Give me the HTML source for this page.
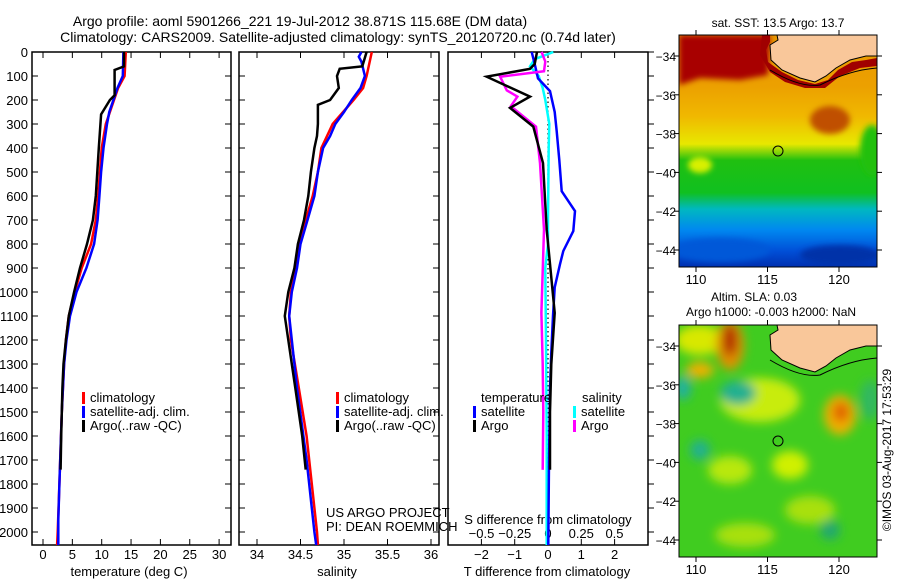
<!DOCTYPE html>
<html><head><meta charset="utf-8">
<style>
html,body{margin:0;padding:0;background:#fff;}
svg{display:block;font-family:"Liberation Sans",sans-serif;}
text{fill:#000;}
</style></head>
<body>
<svg id="fig" width="900" height="580" viewBox="0 0 900 580" xmlns="http://www.w3.org/2000/svg">
<defs>
<linearGradient id="sstGrad" x1="0" y1="0" x2="0" y2="1">
<stop offset="0" stop-color="#e89800"/>
<stop offset="0.22" stop-color="#eca000"/>
<stop offset="0.35" stop-color="#f0b800"/>
<stop offset="0.47" stop-color="#e8e800"/>
<stop offset="0.54" stop-color="#20c010"/>
<stop offset="0.68" stop-color="#10c020"/>
<stop offset="0.75" stop-color="#00b8c0"/>
<stop offset="0.84" stop-color="#0088f0"/>
<stop offset="0.93" stop-color="#0050d8"/>
<stop offset="1" stop-color="#0030b0"/>
</linearGradient>
<filter id="blur4"><feGaussianBlur stdDeviation="5"/></filter>
<filter id="blur2"><feGaussianBlur stdDeviation="3"/></filter>
<clipPath id="mapClip1"><rect x="679" y="35" width="198" height="232"/></clipPath>
<clipPath id="mapClip2"><rect x="679" y="325" width="198" height="232"/></clipPath>
</defs>

<text x="300" y="26" font-size="14" text-anchor="middle">Argo profile: aoml 5901266_221 19-Jul-2012 38.871S 115.68E (DM data)</text>
<text x="338" y="42" font-size="14" text-anchor="middle">Climatology: CARS2009. Satellite-adjusted climatology: synTS_20120720.nc (0.74d later)</text>

<!-- SST map -->
<g clip-path="url(#mapClip1)">
<rect x="679" y="35" width="198" height="232" fill="url(#sstGrad)"/>
<g filter="url(#blur2)">
<polygon points="679,35 770,35 768,75 740,80 700,78 679,85" fill="#a80000"/>
<ellipse cx="830" cy="120" rx="20" ry="14" fill="#c05000"/>
<ellipse cx="872" cy="150" rx="12" ry="25" fill="#20c010"/>
<ellipse cx="700" cy="165" rx="12" ry="8" fill="#d8f000"/>
<ellipse cx="720" cy="250" rx="50" ry="12" fill="#0058d8"/>
<ellipse cx="840" cy="255" rx="40" ry="10" fill="#0030a8"/>
</g>
<path d="M770,35 L770,42 L766,50 L768,62 L782,72 L798,80 L815,84 L828,80 L838,70 L852,62 L866,60 L877,58 L877,66 L860,68 L840,76 L825,88 L805,88 L785,82 L770,72 L760,55 L762,35 Z" fill="#a00000"/>
<path d="M777,35 L778,40 L770,45 L771,60 L782,70 L800,78 L815,82 L826,76 L836,68 L850,60 L866,56 L877,56 L877,35 Z" fill="#f9c79a" stroke="#000" stroke-width="1"/>
<path d="M770,70 Q800,88 820,85 Q850,70 877,68" fill="none" stroke="#000" stroke-width="1"/>
</g>
<rect x="679" y="35" width="198" height="232" fill="none" stroke="#000"/>
<circle cx="778" cy="151" r="5" fill="none" stroke="#000"/>
<text x="778" y="27" font-size="12" text-anchor="middle">sat. SST: 13.5 Argo: 13.7</text>

<!-- SLA map -->
<g clip-path="url(#mapClip2)">
<rect x="679" y="325" width="198" height="232" fill="#40cc20"/>
<g filter="url(#blur4)">
<ellipse cx="700" cy="340" rx="25" ry="15" fill="#d8e800"/>
<ellipse cx="730" cy="345" rx="14" ry="25" fill="#e09000"/>
<ellipse cx="730" cy="340" rx="7" ry="16" fill="#b02800"/>
<ellipse cx="700" cy="370" rx="14" ry="8" fill="#f0b000"/>
<ellipse cx="760" cy="400" rx="40" ry="22" fill="#c8ec10"/>
<ellipse cx="738" cy="393" rx="18" ry="12" fill="#20b090"/>
<ellipse cx="683" cy="388" rx="8" ry="12" fill="#20b0a0"/>
<ellipse cx="700" cy="450" rx="10" ry="10" fill="#20b090"/>
<ellipse cx="840" cy="415" rx="16" ry="20" fill="#f0b000"/>
<ellipse cx="841" cy="412" rx="8" ry="10" fill="#e06000"/>
<ellipse cx="790" cy="465" rx="18" ry="14" fill="#d0f000"/>
<ellipse cx="730" cy="470" rx="22" ry="14" fill="#b8e810"/>
<ellipse cx="810" cy="510" rx="25" ry="14" fill="#a8e010"/>
<ellipse cx="745" cy="535" rx="30" ry="12" fill="#a8e010"/>
<ellipse cx="870" cy="400" rx="10" ry="20" fill="#30b860"/>
<ellipse cx="830" cy="530" rx="10" ry="10" fill="#20a870"/>
</g>
<path d="M777,325 L778,330 L770,335 L771,350 L782,360 L800,368 L815,372 L826,366 L836,358 L850,350 L866,346 L877,346 L877,325 Z" fill="#f9c79a" stroke="#000" stroke-width="1"/>
<path d="M770,360 Q800,378 820,375 Q850,360 877,358" fill="none" stroke="#000" stroke-width="1"/>
</g>
<rect x="679" y="325" width="198" height="232" fill="none" stroke="#000"/>
<circle cx="778" cy="441" r="5" fill="none" stroke="#000"/>
<text x="754" y="301" font-size="12" text-anchor="middle">Altim. SLA: 0.03</text>
<text x="771" y="316" font-size="12" text-anchor="middle">Argo h1000: -0.003 h2000: NaN</text>
<text transform="translate(891,450) rotate(-90)" font-size="12" text-anchor="middle">©IMOS 03-Aug-2017 17:53:29</text>

<g id="plots"></g>
</svg>
<script>
// ---------- data ----------
const depthTicks = [0,100,200,300,400,500,600,700,800,900,1000,1100,1200,1300,1400,1500,1600,1700,1800,1900,2000];
const tempTicks = [0,5,10,15,20,25,30];
const salTicks = [34,34.5,35,35.5,36];
const salTickLabels = ["34","34.5","35","35.5","36"];
const dTTicks = [-2,-1,0,1,2];
const dSTicks = [-0.5,-0.25,0,0.25,0.5];
const dSTickLabels = ["-0.5","-0.25","0","0.25","0.5"];
const latTicks = [-34,-36,-38,-40,-42,-44];
const lonTicks = [110,115,120];

const tArgoDepth = [0,60,75,180,200,240,260,400,600,700,800,900,1000,1100,1200,1300,1400,1600,1740];
const tArgoVal   = [13.8,13.8,12.2,12.2,11.4,10.4,9.9,9.5,9.0,8.5,7.5,6.3,5.3,4.4,3.9,3.5,3.3,3.1,3.0];
const tClimDepth = [0,100,150,200,250,300,400,500,600,700,800,900,1000,1100,1200,1300,1500,1800,2000,2054];
const tClimVal   = [14.1,13.9,12.8,12.1,11.4,10.7,10.0,9.7,9.4,9.0,8.2,6.6,5.4,4.4,3.9,3.6,3.2,2.8,2.5,2.4];
const tSatDepth  = [0,100,150,200,250,300,400,500,600,700,800,900,1000,1100,1200,1300,1500,1800,1950,2054];
const tSatVal    = [13.7,13.6,12.7,12.0,11.3,10.9,10.3,9.9,9.6,9.3,8.7,7.4,5.7,4.6,4.0,3.6,3.2,2.8,2.6,2.6];

const sArgoDepth = [0,60,70,100,150,200,220,300,350,400,500,600,700,800,900,1000,1100,1200,1400,1600,1740];
const sArgoVal   = [35.26,35.21,34.95,34.92,34.94,34.84,34.70,34.70,34.69,34.66,34.62,34.59,34.54,34.47,34.43,34.36,34.32,34.36,34.44,34.52,34.56];
const sClimDepth = [0,100,150,200,250,300,400,500,600,700,800,900,1000,1100,1200,1400,1600,1800,2000,2054];
const sClimVal   = [35.32,35.26,35.22,35.11,34.99,34.87,34.74,34.70,34.64,34.56,34.49,34.45,34.39,34.37,34.39,34.48,34.57,34.63,34.69,34.70];
const sSatDepth  = [0,20,40,100,150,200,250,300,350,400,500,600,700,800,900,1000,1100,1400,1700,2000,2054];
const sSatVal    = [35.20,35.17,35.20,35.24,35.19,35.09,35.00,34.90,34.84,34.76,34.70,34.66,34.58,34.50,34.46,34.40,34.37,34.46,34.57,34.66,34.68];

const dTSatDepth = [0,50,110,163,250,330,450,580,663,746,829,884,981,1100,1250,1400,1700,2054];
const dTSatVal   = [-0.49,-0.40,-0.30,0.06,0.20,0.26,0.34,0.41,0.81,0.76,0.46,0.36,0.20,0.15,0.10,0.06,0.03,0.01];
const dTArgoDepth = [0,50,70,103,186,233,311,463,740,1087,1300,1500,1741];
const dTArgoVal   = [-0.33,-0.40,-0.54,-1.84,-0.54,-1.14,-0.44,-0.15,-0.04,0.20,0.10,0.06,0.06];
const dSSatDepth = [0,30,60,100,150,200,300,400,700,800,900,1200,1600,2054];
const dSSatVal   = [0.04,-0.10,-0.135,-0.07,-0.04,-0.02,0.01,0.005,0.0,0.0,-0.02,-0.015,-0.01,-0.01];
const dSArgoDepth = [0,40,80,103,160,186,226,311,463,740,1087,1300,1500,1741];
const dSArgoVal   = [-0.048,-0.02,-0.03,-0.36,-0.31,-0.23,-0.28,-0.09,-0.06,-0.03,-0.05,-0.04,-0.035,-0.04];

// ---------- layout ----------
const NS = "http://www.w3.org/2000/svg";
const root = document.getElementById('plots');
const TOP = 52, BOT = 545, DPX = 0.24;
const yD = d => TOP + d * DPX;
const P1 = {x0:32, x1:231}, P2 = {x0:239, x1:439}, P3 = {x0:448, x1:648};
const xT = v => 43 + v * 5.87;
const xS = v => 257 + (v - 34) * 87;
const xDT = v => 548 + v * 33.3;
const xDS = v => 548 + v * 133;
const mapX = lon => 696 + (lon - 110) * 14.3;
const mapY1 = lat => 56 + (-34 - lat) * 19.4;
const mapY2 = lat => 346 + (-34 - lat) * 19.4;

function el(tag, attrs, parent) {
  const e = document.createElementNS(NS, tag);
  for (const k in attrs) e.setAttribute(k, attrs[k]);
  (parent || root).appendChild(e);
  return e;
}
function txt(s, x, y, size, anchor, name) {
  const t = el('text', {x:x, y:y, 'font-size':size, 'text-anchor':anchor||'start'});
  t.textContent = s;
  
  
  return t;
}
function line(x1,y1,x2,y2,name,stroke,w,dash) {
  const l = el('line', {x1:x1,y1:y1,x2:x2,y2:y2,stroke:stroke||'#000','stroke-width':w||1});
  if (dash) l.setAttribute('stroke-dasharray', dash);
  
  
  return l;
}
function series(depths, vals, xf, color, name) {
  const pts = depths.map((d,i) => xf(vals[i]).toFixed(1) + ',' + yD(d).toFixed(1)).join(' ');
  const p = el('polyline', {points:pts, fill:'none', stroke:color, 'stroke-width':2.5, 'stroke-linejoin':'miter'});
  
  
}
function frame(P, name) {
  const r = el('rect', {x:P.x0, y:TOP, width:P.x1-P.x0, height:BOT-TOP, fill:'none', stroke:'#000', 'stroke-width':1.5});
  
  
}

// panel frames
frame(P1, 'temperature-panel');
frame(P2, 'salinity-panel');
frame(P3, 'difference-panel');

// depth axis labels
depthTicks.forEach(d => {
  line(P1.x0, yD(d), P1.x0+6, yD(d), 'depth-tick');
  line(P1.x1, yD(d), P1.x1-6, yD(d), 'depth-tick');
  line(P2.x0, yD(d), P2.x0+6, yD(d), 'depth-tick');
  line(P2.x1, yD(d), P2.x1-6, yD(d), 'depth-tick');
  line(P3.x1, yD(d), P3.x1+6, yD(d), 'depth-tick');
  txt(String(d), 28, yD(d)+5, 13, 'end', 'depth-tick-label');
});

// temperature axis
tempTicks.forEach(v => {
  line(xT(v), BOT, xT(v), BOT-6, 'temperature-tick');
  line(xT(v), TOP, xT(v), TOP+6, 'temperature-tick');
  txt(String(v), xT(v), 559, 13, 'middle', 'temperature-tick-label');
});
txt('temperature (deg C)', 129, 576, 13, 'middle', 'temperature-axis-title');

// salinity axis
salTicks.forEach((v,i) => {
  line(xS(v), BOT, xS(v), BOT-6, 'salinity-tick');
  line(xS(v), TOP, xS(v), TOP+6, 'salinity-tick');
  txt(salTickLabels[i], xS(v), 559, 13, 'middle', 'salinity-tick-label');
});
txt('salinity', 337, 576, 13, 'middle', 'salinity-axis-title');

// difference axes
dTTicks.forEach(v => {
  line(xDT(v), BOT, xDT(v), BOT-6, 'dt-tick');
  line(xDT(v), TOP, xDT(v), TOP+6, 'dt-tick');
  txt(String(v).replace('-','\u2212'), xDT(v), 559, 13, 'middle', 'dt-tick-label');
});
dSTicks.forEach((v,i) => {
  txt(dSTickLabels[i].replace('-','\u2212'), xDS(v), 538, 13, 'middle', 'ds-tick-label');
});
txt('S difference from climatology', 548, 524, 13, 'middle', 'ds-axis-title');
txt('T difference from climatology', 547, 576, 13, 'middle', 'dt-axis-title');
line(xDT(0), TOP, xDT(0), BOT, 'zero-reference-line', '#000', 1.2, '1.5,3');

// series: temperature
series(tClimDepth, tClimVal, xT, '#ff0000', 'temperature-climatology-line');
series(tSatDepth, tSatVal, xT, '#0000ff', 'temperature-satellite-line');
series(tArgoDepth, tArgoVal, xT, '#000000', 'temperature-argo-line');
// salinity
series(sClimDepth, sClimVal, xS, '#ff0000', 'salinity-climatology-line');
series(sSatDepth, sSatVal, xS, '#0000ff', 'salinity-satellite-line');
series(sArgoDepth, sArgoVal, xS, '#000000', 'salinity-argo-line');
// differences
series(dSSatDepth, dSSatVal, xDS, '#00ffff', 'ds-satellite-line');
series(dTSatDepth, dTSatVal, xDT, '#0000ff', 'dt-satellite-line');
series(dSArgoDepth, dSArgoVal, xDS, '#ff00ff', 'ds-argo-line');
series(dTArgoDepth, dTArgoVal, xDT, '#000000', 'dt-argo-line');

// legends
function legend(x, y, color, label, name) {
  const r = el('rect', {x:x, y:y-10, width:3, height:12, fill:color});
  
  
  txt(label, x+8, y, 13, 'start', name + '-label');
}
legend(82, 402, '#ff0000', 'climatology', 'legend-temp-climatology');
legend(82, 416, '#0000ff', 'satellite-adj. clim.', 'legend-temp-satellite');
legend(82, 430, '#000000', 'Argo(..raw -QC)', 'legend-temp-argo');
legend(336, 402, '#ff0000', 'climatology', 'legend-sal-climatology');
legend(336, 416, '#0000ff', 'satellite-adj. clim.', 'legend-sal-satellite');
legend(336, 430, '#000000', 'Argo(..raw -QC)', 'legend-sal-argo');
txt('temperature', 481, 402, 13, 'start', 'legend-temperature-heading');
txt('salinity', 582, 402, 13, 'start', 'legend-salinity-heading');
legend(473, 416, '#0000ff', 'satellite', 'legend-dt-satellite');
legend(473, 430, '#000000', 'Argo', 'legend-dt-argo');
legend(573, 416, '#00ffff', 'satellite', 'legend-ds-satellite');
legend(573, 430, '#ff00ff', 'Argo', 'legend-ds-argo');
txt('US ARGO PROJECT', 326, 517, 13, 'start', 'project-credit');
txt('PI: DEAN ROEMMICH', 326, 531, 13, 'start', 'pi-credit');

// map axes
[mapY1, mapY2].forEach((my, k) => {
  latTicks.forEach(lat => {
    line(679, my(lat), 674, my(lat), 'lat-tick');
    line(877, my(lat), 882, my(lat), 'lat-tick');
    txt(String(lat).replace('-','\u2212'), 676, my(lat)+5, 12, 'end', 'lat-tick-label');
  });
  const top = k===0 ? 35 : 325, bot = top + 232;
  lonTicks.forEach(lon => {
    line(mapX(lon), bot, mapX(lon), bot+5, 'lon-tick');
    line(mapX(lon), top, mapX(lon), top-5, 'lon-tick');
    txt(String(lon), mapX(lon), bot+17, 13, 'middle', 'lon-tick-label');
  });
});
</script>
</body></html>
